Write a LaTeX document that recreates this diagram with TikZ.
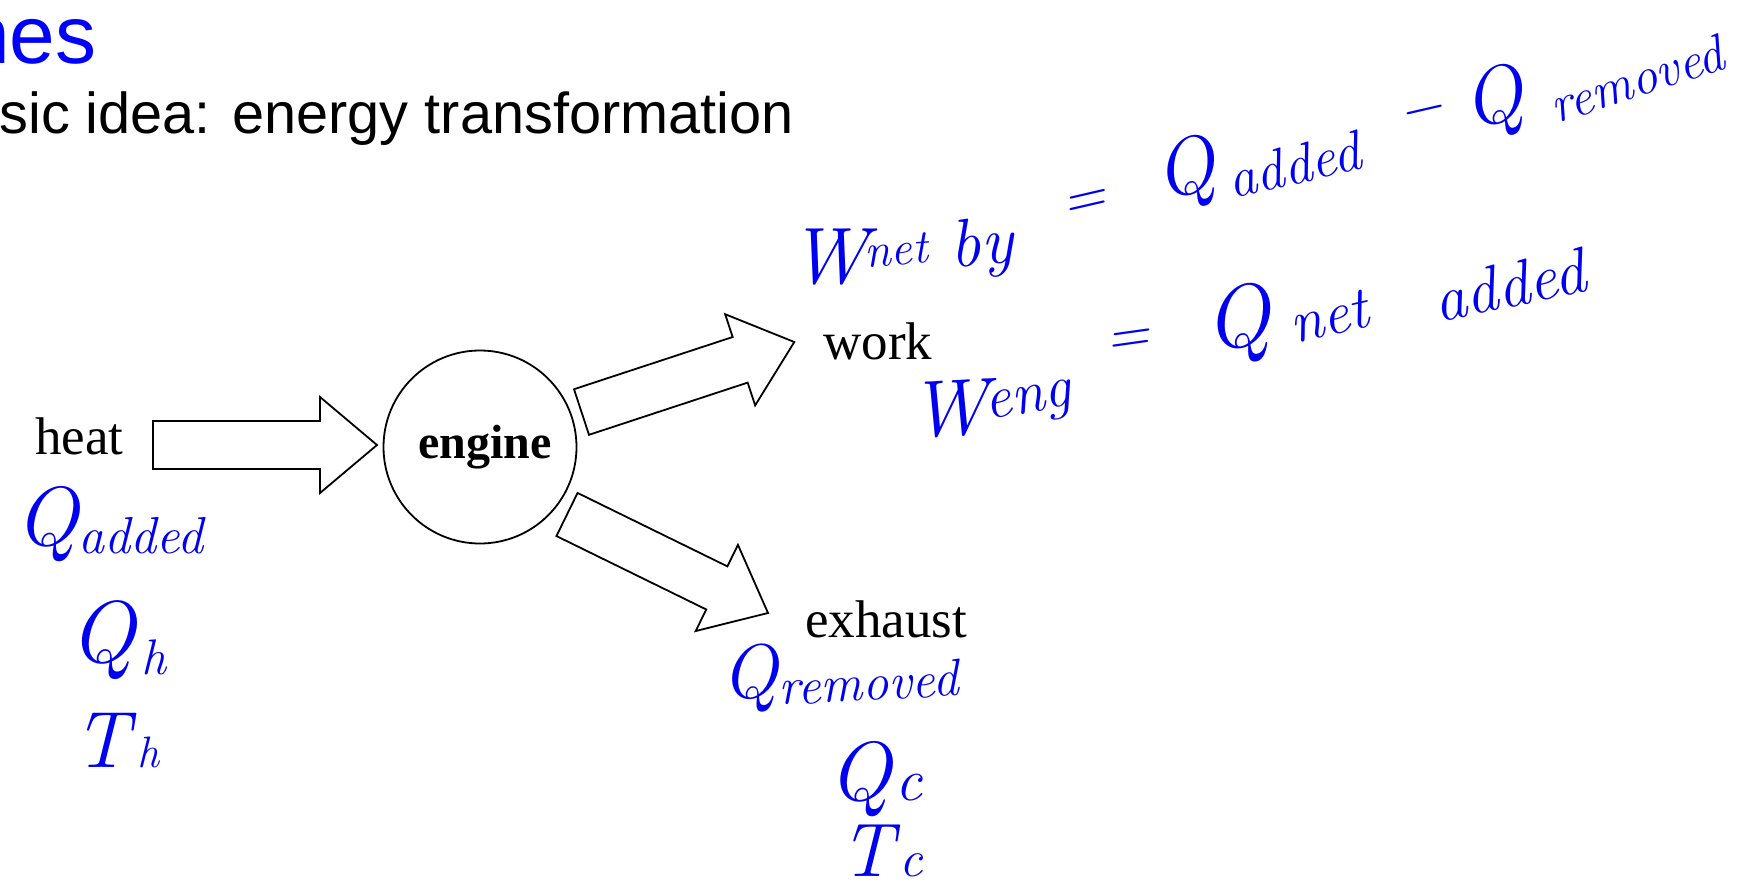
\documentclass[tikz,border=0pt]{standalone}
\usepackage{fontspec}
\newfontfamily\arialf{Liberation Sans}
\newfontfamily\timesf{Liberation Serif}
\usetikzlibrary{calc}
\definecolor{pen}{RGB}{0,0,240}
\definecolor{titleblue}{RGB}{0,0,255}
\newcommand\fs[1]{\fontsize{#1}{#1}\selectfont}
% piece of handwriting placed #1 along the line, raised by #2
\newcommand\hwat[3]{\rlap{\hspace{#1}\raisebox{#2}{#3}}}
% block arrow from coordinate #1 (tail centre) to coordinate #2 (tip)
\newcommand\fatarrow[2]{%
  \coordinate (hb) at ($(#2)!28.5pt!(#1)$);
  \draw[blockarrow] ($(#1)!12pt!90:(#2)$) -- ($(hb)!12pt!90:(#2)$)
    -- ($(hb)!24pt!90:(#2)$) -- (#2) -- ($(hb)!24pt!-90:(#2)$)
    -- ($(hb)!12pt!-90:(#2)$) -- ($(#1)!12pt!-90:(#2)$) -- cycle;}
\begin{document}
\begin{tikzpicture}[x=0.5pt,y=-0.5pt,
  lbl/.style={inner sep=0pt, anchor=base west, font=\timesf\fs{26.5pt}},
  hw/.style={inner sep=0pt, anchor=base west, text=pen, font=\itshape},
  blockarrow/.style={draw=black, line width=0.9pt, fill=white, line join=miter}]
\useasboundingbox (0,0) rectangle (1761,884);

% heading
\node[inner sep=0pt, anchor=base west, text=titleblue, font=\arialf\fs{41pt}] (title) at (-36,63) {nes};
\node[inner sep=0pt, anchor=base west, font=\arialf\fs{28.85pt}] (sub) at (-1,133) {sic idea: energy transformation};

% engine and labels
\node[circle, draw, line width=0.9pt, minimum size=96.5pt, inner sep=0pt,
      font=\timesf\bfseries\fs{24pt}] (engine) at (480,447) {\hspace{5pt}engine};
\node[lbl] (heat) at (35,454) {heat};
\node[lbl] (work) at (823,359) {work};
\node[lbl] (exhaust) at (805,637) {exhaust};

% block arrows
\coordinate (hT) at ($(engine.center)+(-103,-2)$);
\coordinate (hS) at ($(hT)+(-224,0)$);
\coordinate (wS) at ($(engine.center)+(101.5,-35)$);
\coordinate (wT) at ($(wS)+(212.8,-70)$);
\coordinate (eS) at ($(engine.center)+(87,67.5)$);
\coordinate (eT) at ($(eS)+(201,98.5)$);
\fatarrow{hS}{hT}
\fatarrow{wS}{wT}
\fatarrow{eS}{eT}

% handwriting, left
\node[hw] (qadd) at (15,545) {{\fs{42pt}Q}\raisebox{-4pt}{\fs{26pt}added}};
\node[hw] (qh) at (69,662) {{\fs{44pt}Q}\hspace{3pt}\raisebox{-6pt}{\fs{25pt}h}};
\node[hw] (th) at (73,767) {{\fs{40pt}T}\hspace{4pt}{\fs{22pt}h}};

% handwriting, bottom
\node[hw, rotate=3] (qrem) at (722,700) {{\fs{38pt}Q}\raisebox{-4pt}{\fs{26pt}removed}};
\node[hw] (qc) at (828,800) {{\fs{42pt}Q}\hspace{2pt}{\fs{30pt}c}};
\node[hw] (tc) at (840,876) {{\fs{38pt}T}\hspace{3pt}{\fs{26pt}c}};

% handwriting, first equation
\node[hw] (l1a) at (788,283) {%
  \hwat{0pt}{0pt}{\fs{40pt}W}%
  \hwat{37pt}{8pt}{\rotatebox{4}{\fs{24pt}net}}%
  \hwat{79.5pt}{8pt}{\rotatebox{4}{\fs{34pt}by}}%
  \hspace{115pt}};
\node[hw, rotate=13] (l1b) at (1065,223) {%
  \hwat{0pt}{1pt}{\fs{30pt}=}%
  \hwat{48.7pt}{0pt}{\fs{40pt}Q}%
  \hwat{83.6pt}{-7pt}{\fs{28pt}added}%
  \hwat{174pt}{7pt}{\fs{30pt}−}%
  \hwat{206.8pt}{0pt}{\fs{40pt}Q}%
  \hwat{248.3pt}{-7pt}{\rotatebox{5}{\fs{26pt}removed}}%
  \hspace{345pt}};

% handwriting, second equation
\node[hw, rotate=3] (l2a) at (910,438) {%
  \hwat{0pt}{0pt}{\fs{40pt}W}%
  \hwat{37pt}{7pt}{\rotatebox{7}{\fs{30pt}eng}}%
  \hspace{88pt}};
\node[hw, rotate=8] (l2b) at (1107,366) {%
  \hwat{0pt}{4.5pt}{\fs{30pt}=}%
  \hwat{50.5pt}{0pt}{\fs{44pt}Q}%
  \hwat{92pt}{-2pt}{\rotatebox{5}{\fs{30pt}net}}%
  \hwat{165pt}{-1.5pt}{\rotatebox{4}{\fs{32pt}added}}%
  \hspace{245pt}};
\end{tikzpicture}
\end{document}
